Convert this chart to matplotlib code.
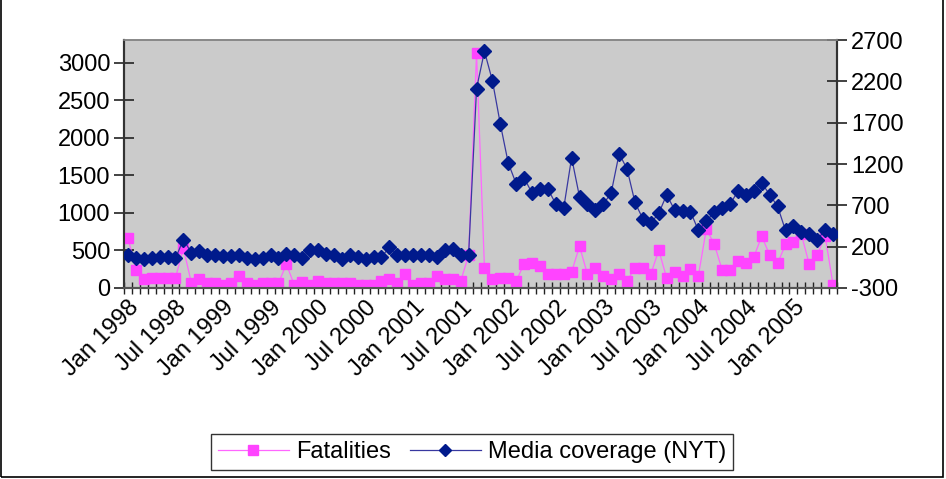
import matplotlib
matplotlib.use('Agg')
import matplotlib.pyplot as plt
from matplotlib.patches import Rectangle
from matplotlib.lines import Line2D
from matplotlib.transforms import ScaledTranslation
import numpy as np

plt.rcParams['font.family'] = ['Liberation Sans', 'DejaVu Sans']

# Monthly data, Jan 1998 .. Jun 2005
months = [f"{m} {y}" for y in range(1998, 2006) for m in
          ["Jan", "Feb", "Mar", "Apr", "May", "Jun", "Jul", "Aug", "Sep", "Oct", "Nov", "Dec"]][:90]

fatalities = [670, 245, 124, 135, 135, 135, 135, 530, 70, 124,
              71, 65, 40, 71, 165, 71, 40, 65, 65, 65,
              318, 38, 80, 40, 90, 65, 65, 65, 62, 38,
              38, 38, 93, 124, 71, 182, 36, 71, 71, 160,
              124, 124, 93, 434, 3121, 265, 124, 137, 137, 93,
              320, 336, 292, 182, 182, 182, 212, 557, 182, 270,
              162, 120, 190, 93, 270, 270, 185, 504, 133, 215,
              160, 248, 160, 782, 589, 240, 240, 358, 327, 413,
              690, 438, 327, 579, 610, 715, 314, 438, 695, 42]

media_nyt = [104, 58, 55, 57, 80, 70, 60, 286, 128, 150,
             105, 105, 90, 88, 95, 65, 55, 65, 95, 63,
             115, 105, 68, 160, 160, 108, 95, 50, 100, 78,
             55, 80, 75, 192, 103, 103, 103, 103, 103, 80,
             155, 172, 103, 103, 2112, 2563, 2209, 1685, 1213, 962,
             1031, 850, 900, 898, 718, 664, 1277, 802, 718, 648,
             712, 853, 1325, 1140, 736, 535, 487, 603, 829, 643,
             627, 625, 397, 506, 620, 670, 712, 873, 829, 873,
             971, 829, 688, 397, 446, 378, 350, 285, 400, 354]

left_ticks = [0, 500, 1000, 1500, 2000, 2500, 3000]
right_ticks = [-300, 200, 700, 1200, 1700, 2200, 2700]

FS = 17
W, H = 946, 479
fig = plt.figure(figsize=(W / 100, H / 100), dpi=100)
fig.patch.set_facecolor('white')

L, R, T, B = 124, 837, 40, 288
ax = fig.add_axes([L / W, 1 - B / H, (R - L) / W, (B - T) / H])
x = np.arange(len(months))

ax.set_facecolor('#cbcbcb')
ax.plot(x, fatalities, color='#ff66ff', lw=0.9, marker='s', ms=7,
        mfc='#ff44ff', mec='#ff44ff', zorder=3)
ax.set_xlim(-0.5, len(months) - 0.5)
ax.set_ylim(0, 3300)
ax.set_yticks(left_ticks)
ax.set_yticklabels([str(v) for v in left_ticks], fontsize=FS)

ax2 = ax.twinx()
ax2.plot(x, media_nyt, color='#3838a0', lw=0.9, marker='D', ms=7,
         mfc='#001a8c', mec='#001a8c', zorder=4)
ax2.set_ylim(-300, 2700)
ax2.set_yticks(right_ticks)
ax2.set_yticklabels([str(v) for v in right_ticks], fontsize=FS)

# x ticks
ax.set_xticks(x[::6])
ax.set_xticklabels(months[::6][:15], fontsize=FS, rotation=45,
                   ha='right', va='top', rotation_mode='anchor')
shift = ScaledTranslation(-9 / 100, 0, fig.dpi_scale_trans)
for lbl in ax.get_xticklabels():
    lbl.set_transform(lbl.get_transform() + shift)
ax.set_xticks(np.arange(-0.5, len(months), 1), minor=True)
ax.tick_params(axis='x', which='major', length=0, pad=6)
ax.tick_params(axis='x', which='minor', length=9, direction='inout',
               width=1, color='#222222')
ax.tick_params(axis='y', which='major', length=14, direction='inout',
               width=1.2, color='#222222', pad=3)
ax2.tick_params(axis='y', which='major', length=14, direction='inout',
                width=1.2, color='#222222', pad=3)

for a in (ax, ax2):
    a.spines['top'].set_color('#888888')
    a.spines['top'].set_linewidth(1.2)
    a.spines['left'].set_color('#333333')
    a.spines['left'].set_linewidth(1.5)
    a.spines['right'].set_color('#333333')
    a.spines['right'].set_linewidth(1.5)
    a.spines['bottom'].set_color('#555555')
    a.spines['bottom'].set_linewidth(1.5)

handles = [
    Line2D([], [], color='#ff66ff', lw=0.9, marker='s', ms=7,
           mfc='#ff44ff', mec='#ff44ff'),
    Line2D([], [], color='#3838a0', lw=0.9, marker='D', ms=6,
           mfc='#001a8c', mec='#001a8c'),
]
leg = fig.legend(handles, ['Fatalities', 'Media coverage (NYT)'],
                 loc='center', bbox_to_anchor=(472 / W, 1 - 452 / H),
                 ncol=2, fontsize=FS, frameon=True, fancybox=False,
                 edgecolor='black', handlelength=3.0, handletextpad=0.3,
                 columnspacing=0.8, borderpad=0.3)
leg.get_frame().set_linewidth(1.0)

fig.patches.append(Rectangle((1 / W, 2 / H), 942 / W, 1.0, transform=fig.transFigure,
                             fill=False, edgecolor='black', lw=1.2))

fig.savefig('out.png', dpi=100)
